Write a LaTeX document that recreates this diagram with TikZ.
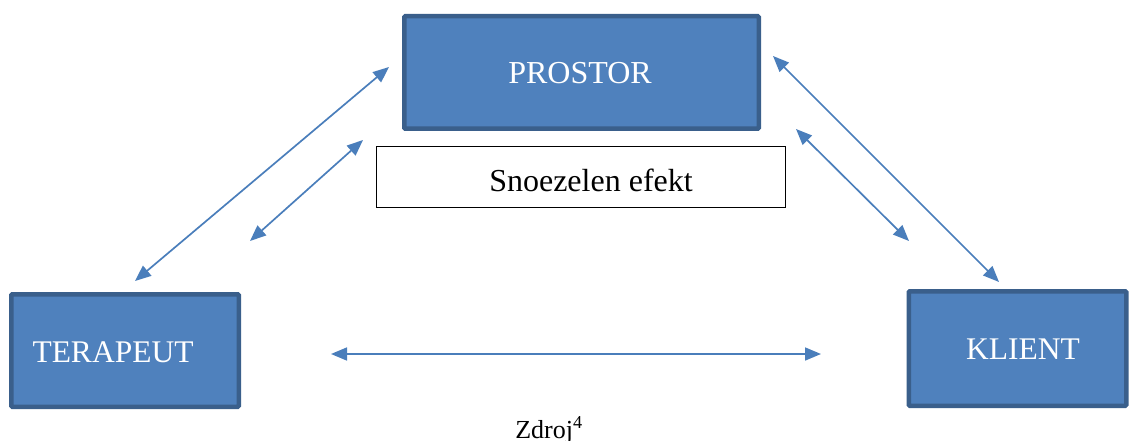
\documentclass[tikz,border=0pt]{standalone}
\usepackage{fontspec}
\setmainfont{Liberation Serif}
\usetikzlibrary{arrows.meta}
\definecolor{boxfill}{HTML}{4F81BD}
\definecolor{boxedge}{HTML}{3A5F8B}
\definecolor{arrowblue}{HTML}{4A7EBB}
\tikzset{
  bluebox/.style={draw=boxedge, fill=boxfill, line width=4.5pt, rounded corners=1pt,
    inner sep=0pt},
  labelbox/.style={draw=black, line width=1.2pt, fill=white, inner sep=0pt},
  boxtext/.style={text=white, font=\fontsize{32}{32}\selectfont},
  link/.style={draw=arrowblue, line width=1.7pt,
    {Triangle[length=16pt,width=13pt]}-{Triangle[length=16pt,width=13pt]}}
}
\begin{document}
\begin{tikzpicture}[x=1pt,y=-1pt]
\useasboundingbox (0,0) rectangle (1129,441);
% boxes
\node[bluebox, minimum width=354.5pt, minimum height=112.5pt] (prostor) at (581.5,72.5) {};
\node[boxtext] (prostorText) at (580,73) {PROSTOR};
\node[labelbox, minimum width=409pt, minimum height=61pt] (efekt) at (581,177) {};
\node[font=\fontsize{32}{32}\selectfont] (efektText) at (591,180) {Snoezelen efekt};
\node[bluebox, minimum width=227.5pt, minimum height=112.5pt] (terapeut) at (125,350.5) {};
\node[boxtext, font=\fontsize{31.5}{31.5}\selectfont] (terapeutText) at (113,352) {TERAPEUT};
\node[bluebox, minimum width=217.5pt, minimum height=114.5pt] (klient) at (1017.5,348.5) {};
\node[boxtext, font=\fontsize{31.5}{31.5}\selectfont] (klientText) at (1023,349) {KLIENT};
% source note
\node[font=\fontsize{26}{26}\selectfont, anchor=base] (zdroj) at (549,438) {Zdroj\textsuperscript{4}};
% arrow end points
\coordinate (a1) at (135,281);
\coordinate (a2) at (389,67);
\coordinate (b1) at (250,241);
\coordinate (b2) at (363,140);
\coordinate (c1) at (773,56);
\coordinate (c2) at (999,282);
\coordinate (d1) at (796,129);
\coordinate (d2) at (909,241);
\coordinate (e1) at (331,354);
\coordinate (e2) at (821,354);
% arrows
\draw[link] (a1) -- (a2);
\draw[link] (b1) -- (b2);
\draw[link] (c1) -- (c2);
\draw[link] (d1) -- (d2);
\draw[link] (e1) -- (e2);
\end{tikzpicture}
\end{document}
